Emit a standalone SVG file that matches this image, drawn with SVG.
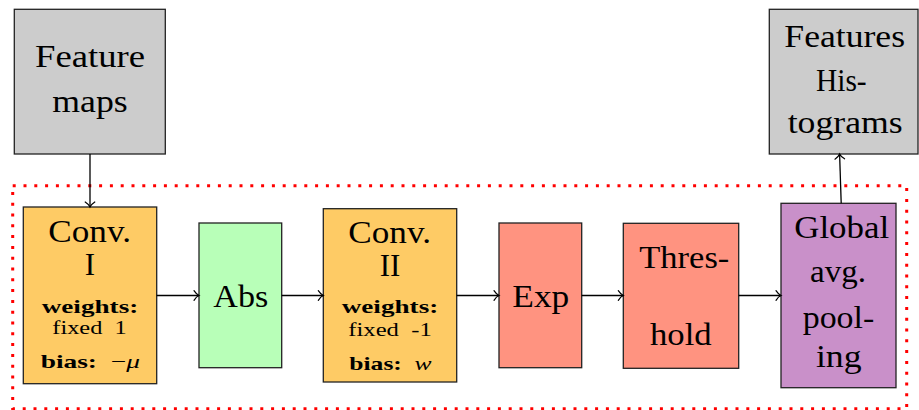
<svg xmlns="http://www.w3.org/2000/svg" width="919" height="410" viewBox="0 0 919 410">
  <style>
    .box { stroke: #222; stroke-width: 1.3; }
    .io { fill: #cccccc; }
    .conv { fill: #fecb65; }
    .abs { fill: #b8ffb8; }
    .nl { fill: #ff9380; }
    .pool { fill: #c990c9; }
    .big { font-family: "Liberation Serif", "Times New Roman", serif; font-size: 31px; fill: #000; text-anchor: middle; }
    .sm { font-family: "Liberation Serif", "Times New Roman", serif; font-size: 19px; fill: #000; text-anchor: middle; white-space: pre; }
    .bf { font-weight: bold; }
    .it { font-style: italic; }
    .edge { stroke: #000; stroke-width: 1.3; fill: none; marker-end: url(#to); }
    .frame { fill: none; stroke: #ff0000; stroke-width: 3; stroke-dasharray: 3 7.8; }
  </style>
  <defs>
    <marker id="to" markerUnits="userSpaceOnUse" markerWidth="12" markerHeight="12" refX="10" refY="6" orient="auto">
      <path d="M 5 1.2 Q 7.5 5 10 6 Q 7.5 7 5 10.8" fill="none" stroke="#000" stroke-width="1.2" stroke-linecap="round"/>
    </marker>
  </defs>

  <!-- dotted frame around the processing block -->
  <rect class="frame" x="12.7" y="185.7" width="894" height="223"/>

  <g id="feature-maps">
    <rect class="box io" x="14.3" y="9.3" width="151" height="144.7"/>
    <text class="big" x="90" y="66.7" textLength="110" lengthAdjust="spacingAndGlyphs">Feature</text>
    <text class="big" x="90" y="111.7" textLength="75.4" lengthAdjust="spacingAndGlyphs">maps</text>
  </g>

  <g id="features-histograms">
    <rect class="box io" x="769.3" y="9.3" width="148.7" height="144.7"/>
    <text class="big" x="844.7" y="46.7" textLength="120.7" lengthAdjust="spacingAndGlyphs">Features</text>
    <text class="big" x="841.3" y="91" textLength="50.7" lengthAdjust="spacingAndGlyphs">His-</text>
    <text class="big" x="845.2" y="133.3" textLength="115" lengthAdjust="spacingAndGlyphs">tograms</text>
  </g>

  <g id="conv-1">
    <rect class="box conv" x="23.3" y="207" width="133.4" height="176.7"/>
    <text class="big" x="89.7" y="241.7" textLength="82.7" lengthAdjust="spacingAndGlyphs">Conv.</text>
    <text class="big" x="90" y="275">I</text>
    <text class="sm bf" x="90" y="312.7" textLength="96.6" lengthAdjust="spacingAndGlyphs">weights:</text>
    <text class="sm" x="89.5" y="334" textLength="74.4" lengthAdjust="spacingAndGlyphs" xml:space="preserve">fixed  1</text>
    <text class="sm" x="90.3" y="368" textLength="99.3" lengthAdjust="spacingAndGlyphs" xml:space="preserve"><tspan class="bf">bias:</tspan>  −<tspan class="it">μ</tspan></text>
  </g>

  <g id="abs">
    <rect class="box abs" x="199" y="223" width="82.7" height="144.7"/>
    <text class="big" x="240.8" y="306.7" textLength="55" lengthAdjust="spacingAndGlyphs">Abs</text>
  </g>

  <g id="conv-2">
    <rect class="box conv" x="323.3" y="208.7" width="133.4" height="173.3"/>
    <text class="big" x="389.7" y="242.7" textLength="82.7" lengthAdjust="spacingAndGlyphs">Conv.</text>
    <text class="big" x="390" y="276">II</text>
    <text class="sm bf" x="390" y="313.3" textLength="96.6" lengthAdjust="spacingAndGlyphs">weights:</text>
    <text class="sm" x="390" y="335.7" textLength="83.4" lengthAdjust="spacingAndGlyphs" xml:space="preserve">fixed  -1</text>
    <text class="sm" x="390.5" y="370" textLength="82.4" lengthAdjust="spacingAndGlyphs" xml:space="preserve"><tspan class="bf">bias:</tspan>  <tspan class="it">w</tspan></text>
  </g>

  <g id="exp">
    <rect class="box nl" x="499" y="223" width="82.7" height="144.7"/>
    <text class="big" x="540.8" y="306.7" textLength="57" lengthAdjust="spacingAndGlyphs">Exp</text>
  </g>

  <g id="threshold">
    <rect class="box nl" x="623.3" y="223.3" width="115.4" height="145"/>
    <text class="big" x="684.3" y="268.3" textLength="90" lengthAdjust="spacingAndGlyphs">Thres-</text>
    <text class="big" x="680.8" y="345" textLength="61.7" lengthAdjust="spacingAndGlyphs">hold</text>
  </g>

  <g id="global-avg-pooling">
    <rect class="box pool" x="781" y="203.3" width="115" height="184.4"/>
    <text class="big" x="841.7" y="238.3" textLength="95" lengthAdjust="spacingAndGlyphs">Global</text>
    <text class="big" x="838" y="282" textLength="56" lengthAdjust="spacingAndGlyphs">avg.</text>
    <text class="big" x="838.5" y="328" textLength="71.6" lengthAdjust="spacingAndGlyphs">pool-</text>
    <text class="big" x="838.8" y="366.7" textLength="45.7" lengthAdjust="spacingAndGlyphs">ing</text>
  </g>

  <g id="connectors">
    <line class="edge" x1="90" y1="154" x2="90" y2="207"/>
    <line class="edge" x1="156.7" y1="295.5" x2="199" y2="295.5"/>
    <line class="edge" x1="281.7" y1="295.5" x2="323.3" y2="295.5"/>
    <line class="edge" x1="456.7" y1="295.5" x2="499" y2="295.5"/>
    <line class="edge" x1="581.7" y1="295.5" x2="623.3" y2="295.5"/>
    <line class="edge" x1="738.7" y1="295.5" x2="781" y2="295.5"/>
    <line class="edge" x1="841.2" y1="203.3" x2="839.6" y2="154"/>
  </g>
</svg>
